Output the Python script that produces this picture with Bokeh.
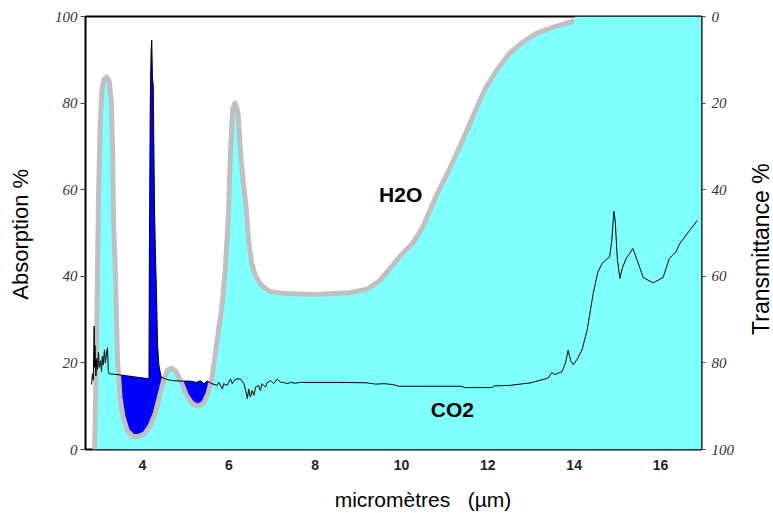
import math
from bokeh.plotting import figure
from bokeh.layouts import row, column
from bokeh.models import Range1d, LinearAxis, FixedTicker, Label
from bokeh.embed import file_html
from bokeh.resources import INLINE

# ---- data ----
x_ticks = [4, 6, 8, 10, 12, 14, 16]
y_ticks = [0, 20, 40, 60, 80, 100]

h2o_x = [2.89, 2.92, 2.95, 2.98, 3.02, 3.06, 3.11, 3.17, 3.23, 3.28, 3.31, 3.33,
         3.37, 3.42, 3.48, 3.55, 3.65, 3.78, 3.90, 4.05, 4.18, 4.30, 4.40, 4.49,
         4.58, 4.67, 4.78, 4.90, 5.02, 5.15, 5.30, 5.42, 5.52, 5.60, 5.68, 5.76,
         5.84, 5.92, 5.98, 6.04, 6.09, 6.14, 6.21, 6.27, 6.33, 6.40, 6.46, 6.53,
         6.62, 6.75, 6.95, 7.30, 8.00, 8.80, 9.20, 9.50, 9.75, 10.00, 10.25, 10.50,
         10.80, 11.10, 11.40, 11.70, 11.95, 12.20, 12.50, 12.80, 13.10, 13.50, 14.00]
h2o_y = [0, 15, 35, 58, 75, 83, 85.5, 86, 85, 80, 68, 52,
         42, 21, 12, 7.5, 4.3, 3.0, 3.0, 3.6, 5.5, 8.5, 12.5, 16.0,
         18.3, 18.8, 18.0, 15.5, 12.5, 10.6, 10.0, 10.8, 13.0, 16.0, 21.5, 27.5,
         33, 42, 52, 69, 78.5, 80, 78, 69, 62, 56, 48, 43,
         40, 38, 36.5, 36, 35.8, 36.2, 37, 39, 42, 45, 47.5, 51.5,
         58.5, 64.5, 71, 78, 83.5, 87.5, 91.5, 94, 96, 97.5, 99]
h2o_fill_end_x = [14.02, 16.95]
h2o_fill_end_y = [100, 100]

co2_x = [2.82, 2.84, 2.86, 2.88, 2.89, 2.90, 2.92, 2.94, 2.96, 2.98, 3.00, 3.03,
         3.05, 3.07, 3.09, 3.12, 3.14, 3.17, 3.19, 3.21, 3.23, 3.50, 3.80, 4.10,
         4.15, 4.16, 4.18, 4.20, 4.215, 4.23, 4.25, 4.26, 4.28, 4.30, 4.32, 4.35,
         4.38, 4.43, 4.55, 4.70, 4.90, 5.10, 5.25, 5.34, 5.42, 5.50, 5.61, 5.73,
         5.77, 5.85, 5.88, 5.96, 6.04, 6.08, 6.12, 6.19, 6.27, 6.35, 6.39, 6.43,
         6.46, 6.50, 6.54, 6.58, 6.62, 6.69, 6.73, 6.77, 6.85, 6.89, 6.97, 7.04,
         7.12, 7.20, 7.27, 7.35, 7.43, 7.54, 7.66, 8.50, 9.20, 9.40, 9.60, 9.80,
         9.95, 10.50, 11.40, 11.45, 12.10, 12.15, 12.50, 13.00, 13.40, 13.48, 13.55, 13.72,
         13.80, 13.86, 13.92, 13.98, 14.08, 14.18, 14.30, 14.44, 14.55, 14.65, 14.76, 14.82,
         14.87, 14.92, 14.95, 15.00, 15.06, 15.12, 15.20, 15.36, 15.45, 15.60, 15.83, 16.06,
         16.20, 16.27, 16.35, 16.45, 16.85]
co2_y = [15.0, 17.5, 16.0, 28.5, 19.0, 24.0, 17.0, 21.0, 18.5, 22.5, 19.0, 20.5,
         18.0, 21.5, 19.5, 23.0, 20.0, 22.5, 23.5, 18.0, 17.5, 17.2, 16.8, 16.4,
         16.3, 45, 80, 92, 94.5, 86, 84, 73, 55, 45, 38, 24,
         19.5, 16.8, 16.2, 15.9, 15.8, 15.8, 15.5, 15.9, 15.2, 15.8, 15.2, 14.8,
         15.5, 14.0, 15.2, 14.8, 16.3, 15.2, 15.9, 16.3, 16.3, 15.2, 13.6, 11.7,
         14.0, 12.1, 13.6, 12.5, 14.4, 14.8, 13.6, 15.2, 14.4, 15.5, 15.9, 15.2,
         16.3, 15.5, 15.5, 15.2, 15.5, 15.3, 15.5, 15.5, 15.4, 15.1, 15.2, 15.0,
         14.6, 14.6, 14.6, 14.3, 14.3, 14.7, 14.8, 15.4, 16.5, 17.8, 17.3, 18.0,
         20.0, 22.9, 20.5, 19.6, 21.0, 23.0, 27.5, 36, 41, 43, 44, 44.5,
         48, 55, 53, 44, 39.5, 42, 44, 46.4, 44, 39.7, 38.5, 39.7,
         44, 44.8, 45.5, 47.6, 52.9]

blue_x_min, blue_x_max = 3.3, 5.9

x_title = "micromètres\u00a0\u00a0\u00a0(µm)"
y_title = "Absorption %"
y2_title = "Transmittance %"

TOP_H = 484

# ---- main figure ----
p = figure(width=700, height=TOP_H, x_range=Range1d(2.68, 16.95), y_range=Range1d(0, 100),
           output_backend="svg", toolbar_location=None,
           min_border_left=45, min_border_right=39, min_border_top=16, min_border_bottom=35)
p.grid.visible = False
p.outline_line_color = "black"
p.outline_line_width = 2
p.background_fill_color = "white"
p.border_fill_color = "white"

bx = [x for x in co2_x if blue_x_min <= x <= blue_x_max]
by = [y for x, y in zip(co2_x, co2_y) if blue_x_min <= x <= blue_x_max]
p.varea(x=bx, y1=[0] * len(bx), y2=by, fill_color="#0000FF")

fx = h2o_x + h2o_fill_end_x
fy = h2o_y + h2o_fill_end_y
p.varea(x=fx, y1=[0] * len(fx), y2=fy, fill_color="#80FFFF")
p.line(h2o_x, h2o_y, line_color="#C0C0C0", line_width=5, line_join="round")
p.line(co2_x, co2_y, line_color="black", line_width=1)

p.add_layout(Label(x=9.98, y=58.9, text="H2O", text_align="center", text_baseline="middle",
                   text_font="Liberation Sans", text_font_style="bold",
                   text_font_size="21px", text_color="black"))
p.add_layout(Label(x=11.18, y=9.2, text="CO2", text_align="center", text_baseline="middle",
                   text_font="Liberation Sans", text_font_style="bold",
                   text_font_size="21px", text_color="black"))

# x axis
xa = p.xaxis[0]
xa.ticker = FixedTicker(ticks=x_ticks)
xa.major_tick_line_color = None
xa.major_tick_out = 0
xa.minor_tick_line_color = None
xa.axis_line_color = None
xa.major_label_text_font = "Liberation Sans"
xa.major_label_text_font_style = "bold"
xa.major_label_text_font_size = "14px"
xa.major_label_text_color = "#222222"
xa.major_label_standoff = 10

# left y axis
ya = p.yaxis[0]
ya.ticker = FixedTicker(ticks=y_ticks)
ya.minor_tick_line_color = None
ya.major_tick_in = 0
ya.major_tick_out = 5
ya.major_tick_line_color = "#444444"
ya.axis_line_color = None
ya.major_label_text_font = "Liberation Serif"
ya.major_label_text_font_style = "italic"
ya.major_label_text_font_size = "15px"
ya.major_label_text_color = "#333333"
ya.major_label_standoff = 3

# right axis (transmittance, reversed)
p.extra_y_ranges = {"trans": Range1d(100, 0)}
ra = LinearAxis(y_range_name="trans")
ra.ticker = FixedTicker(ticks=y_ticks)
ra.minor_tick_line_color = None
ra.major_tick_in = 0
ra.major_tick_out = 4
ra.major_tick_line_color = "#444444"
ra.axis_line_color = None
ra.major_label_text_font = "Liberation Serif"
ra.major_label_text_font_style = "italic"
ra.major_label_text_font_size = "15px"
ra.major_label_text_color = "#333333"
ra.major_label_standoff = 6
p.add_layout(ra, "right")


def title_panel(w, h, text, x, y, size, angle=0.0):
    f = figure(width=w, height=h, x_range=Range1d(0, w), y_range=Range1d(0, h),
               output_backend="svg", toolbar_location=None,
               x_axis_location=None, y_axis_location=None,
               min_border=0, min_border_left=0, min_border_right=0,
               min_border_top=0, min_border_bottom=0)
    f.grid.visible = False
    f.outline_line_color = None
    f.background_fill_color = "white"
    f.border_fill_color = "white"
    f.add_layout(Label(x=x, y=y, text=text, angle=angle, text_align="center",
                       text_baseline="middle", text_font="Liberation Sans",
                       text_font_size=size, text_color="black"))
    return f


p_left = title_panel(40, TOP_H, y_title, 19.5, TOP_H - 243.5, "22px", math.pi / 2)
p_right = title_panel(33, TOP_H, y2_title, 20, TOP_H - 260, "23px", math.pi / 2)
p_bottom = title_panel(773, 28, x_title, 422.5, 28 - 14.7, "21px")

layout = column(row(p_left, p, p_right, spacing=0), p_bottom, spacing=0)

open("out.html", "w").write(file_html(layout, INLINE))
